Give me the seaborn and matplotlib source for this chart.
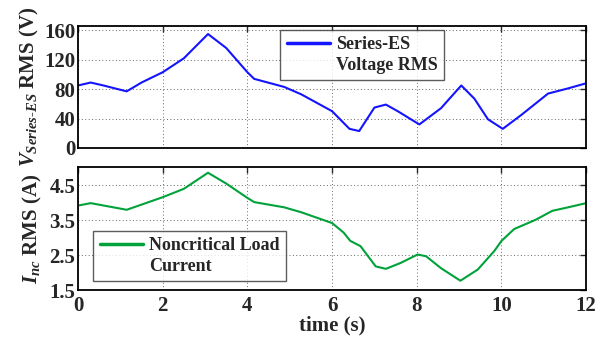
import numpy as np
import pandas as pd
import matplotlib
matplotlib.use("Agg")
import matplotlib.pyplot as plt
from matplotlib.lines import Line2D
import seaborn as sns

# values
t_volt = [0, 0.3, 0.6, 1.15, 1.5, 2.0, 2.5, 3.07, 3.5, 4.0, 4.16, 4.87, 5.27,
          6.0, 6.41, 6.64, 7.0, 7.27, 7.55, 8.06, 8.57, 9.05, 9.36, 9.68,
          10.03, 10.47, 11.1, 11.57, 12.0]
v_rms = [85, 89, 85, 77, 89, 103, 122, 155, 136, 103, 94, 83, 73,
         50, 26, 23, 55, 59, 50, 32, 54, 85, 67, 39,
         26, 45, 74, 81, 88]

t_curr = [0, 0.3, 1.15, 2.0, 2.5, 3.07, 3.5, 4.0, 4.16, 4.87, 5.27,
          6.0, 6.27, 6.43, 6.67, 7.03, 7.27, 7.62, 8.02, 8.22, 8.57, 9.03,
          9.44, 9.83, 10.0, 10.3, 10.8, 11.2, 11.57, 12.0]
i_nc = [3.92, 3.99, 3.80, 4.16, 4.40, 4.86, 4.55, 4.14, 4.02, 3.87, 3.73,
        3.42, 3.15, 2.91, 2.76, 2.18, 2.11, 2.28, 2.52, 2.47, 2.13, 1.77,
        2.09, 2.62, 2.91, 3.25, 3.51, 3.77, 3.87, 3.99]

x_ticks = [0, 2, 4, 6, 8, 10, 12]
v_ticks = [0, 40, 80, 120, 160]
i_ticks = [1.5, 2.5, 3.5, 4.5]

sns.set_style("white")
plt.rcParams['font.family'] = ['Liberation Serif', 'DejaVu Serif']
plt.rcParams['font.weight'] = 'bold'
plt.rcParams['mathtext.fontset'] = 'custom'
plt.rcParams['mathtext.rm'] = 'Liberation Serif:bold'
plt.rcParams['mathtext.it'] = 'Liberation Serif:bold:italic'
plt.rcParams['mathtext.bf'] = 'Liberation Serif:bold'

volt = pd.DataFrame({"t": t_volt, "v": v_rms})
curr = pd.DataFrame({"t": t_curr, "i": i_nc})

fig = plt.figure(figsize=(6, 3.37), dpi=100)
ax1 = fig.add_axes([0.13, 0.561, 0.847, 0.362])
ax2 = fig.add_axes([0.13, 0.139, 0.847, 0.365])

blue = "#1414ff"
green = "#00a23a"
sns.lineplot(data=volt, x="t", y="v", ax=ax1, color=blue, lw=1.5)
sns.lineplot(data=curr, x="t", y="i", ax=ax2, color=green, lw=1.5)

for ax in (ax1, ax2):
    ax.set_xlim(0, 12)
    ax.set_xticks(x_ticks)
    ax.grid(True, linestyle=(0, (1, 2.5)), color="#666666", lw=0.7)
    ax.tick_params(direction="in", top=True, right=True, length=4,
                   width=1, labelsize=15, pad=2)
    ax.tick_params(axis="x", pad=4)
    for s in ax.spines.values():
        s.set_linewidth(1.3)
        s.set_color("black")
    for lab in ax.get_xticklabels() + ax.get_yticklabels():
        lab.set_fontweight("bold")

ax1.set_ylim(0, 166)
ax1.set_yticks(v_ticks)
ax1.set_xticklabels([])
ax1.set_xlabel("")
ax1.set_ylabel(r"$V_{Series\text{-}ES}$ RMS (V)", fontsize=15,
               fontweight="bold", labelpad=2)

ax2.set_ylim(1.5, 5.02)
ax2.set_yticks(i_ticks)
ax2.set_yticklabels([f"{v:.1f}" for v in i_ticks])
ax2.set_xlabel("time (s)", fontsize=15, fontweight="bold", labelpad=0)
ax2.set_ylabel(r"$I_{nc}$ RMS (A)", fontsize=15, fontweight="bold", labelpad=4)

blank = Line2D([], [], color="none")
leg1 = ax1.legend([Line2D([], [], color=blue, lw=2.5), blank],
                  ["Series-ES", "Voltage RMS"], loc="upper left",
                  bbox_to_anchor=(0.398, 0.967), frameon=True, fancybox=False,
                  edgecolor="#333333", handlelength=2.4,
                  labelspacing=0.2, borderpad=0.35, handletextpad=0.35,
                  borderaxespad=0, prop={"weight": "bold", "size": 13})
leg1.get_frame().set_linewidth(1.0)

leg2 = ax2.legend([Line2D([], [], color=green, lw=2.5), blank],
                  ["Noncritical Load", "Current"], loc="upper left",
                  bbox_to_anchor=(0.03, 0.482), frameon=True, fancybox=False,
                  edgecolor="#333333", handlelength=2.4,
                  labelspacing=0.2, borderpad=0.35, handletextpad=0.35,
                  borderaxespad=0, prop={"weight": "bold", "size": 13})
leg2.get_frame().set_linewidth(1.0)

fig.align_ylabels([ax1, ax2])
fig.savefig("out.png", dpi=100)
